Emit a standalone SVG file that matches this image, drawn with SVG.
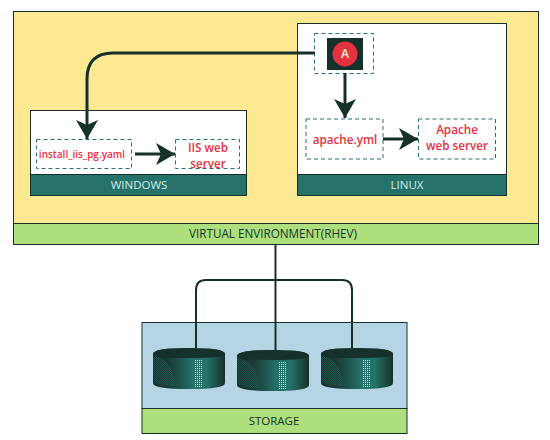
<svg xmlns="http://www.w3.org/2000/svg" width="550" height="440" viewBox="0 0 550 440">
<defs>
<linearGradient id="cyl" x1="0" x2="1" y1="0" y2="0">
<stop offset="0" stop-color="#16302b"/><stop offset="0.22" stop-color="#1a3a35"/><stop offset="0.42" stop-color="#1f5a53"/><stop offset="0.55" stop-color="#24726a"/><stop offset="0.75" stop-color="#24726a"/><stop offset="0.9" stop-color="#1c4a44"/><stop offset="1" stop-color="#16302b"/>
</linearGradient>
<pattern id="dots" width="2" height="2" patternUnits="userSpaceOnUse">
<rect width="2" height="2" fill="#24726a"/><rect width="1" height="1" fill="#d9ec8f"/>
</pattern>
<pattern id="dither" width="2" height="2" patternUnits="userSpaceOnUse">
<rect width="1" height="1" fill="#24726a"/><rect x="1" y="1" width="1" height="1" fill="#24726a"/>
</pattern>
<marker id="head" markerUnits="userSpaceOnUse" markerWidth="24" markerHeight="24" refX="19" refY="11.500" orient="auto">
<path d="M0 0.500 L19 11.500 L0 22.500 L5 11.500 Z" fill="#16302b"/>
</marker>
<g id="disk">
<path d="M0 6 Q0 0 36 0 Q72 0 72 6 V35 Q72 41 36 41 Q0 41 0 35 Z" fill="url(#cyl)"/>
<path d="M0 6 Q0 0 36 0 Q72 0 72 6 Q72 10 36 10 Q0 10 0 6 Z" fill="#16302b"/>
<path d="M0 8 Q20 10 22 38 Q6 38 1 34 Z" fill="url(#dither)" opacity="0.5"/>
<rect x="41" y="11" width="9" height="28" fill="url(#dots)"/>
</g>
</defs>
<style>
.box{stroke:#16302b;stroke-width:1}
.dash{fill:#fff;stroke:#24726a;stroke-width:1;stroke-dasharray:4 3}
.teal{fill:#24726a;stroke:#16302b;stroke-width:1}
.green{fill:#ade07c;stroke:#16302b;stroke-width:1}
.con{fill:none;stroke:#16302b;stroke-width:3}
.arrow{marker-end:url(#head)}
.thin{fill:none;stroke:#16302b;stroke-width:2}
text{font-family:"Open Sans","Liberation Sans",sans-serif;text-anchor:middle}
.red{fill:#e5323e;font-weight:600;font-size:10px}
.redb{fill:#e5323e;font-weight:600;font-size:11.700px}
.lab{fill:#d5ebe6;font-size:11.500px}
.dark{fill:#16302b;font-size:11.700px;font-weight:500}
</style>
<g id="virtual-environment">
<rect x="13.500" y="11.500" width="525" height="212" fill="#fee993" class="box"/>
<rect x="13.500" y="223.500" width="525" height="21" class="green"/>
<text x="273" y="238" class="dark">VIRTUAL ENVIRONMENT(RHEV)</text>
</g>
<g id="windows">
<rect x="30.500" y="110.500" width="216" height="64" fill="#fff" class="box"/>
<rect x="30.500" y="174.500" width="216" height="21" class="teal"/>
<text x="139" y="189" class="lab">WINDOWS</text>
</g>
<g id="linux">
<rect x="297.500" y="23.500" width="209" height="151" fill="#fff" class="box"/>
<rect x="297.500" y="174.500" width="209" height="21" class="teal"/>
<text x="407" y="189" class="lab">LINUX</text>
</g>
<g id="install-yaml">
<rect x="36.500" y="139.500" width="95" height="29" class="dash"/>
<text x="82" y="158" class="red">install_iis_pg.yaml</text>
</g>
<g id="iis-server">
<rect x="175.500" y="139.500" width="64" height="29" class="dash"/>
<text x="208" y="152" class="redb">IIS web</text>
<text x="208" y="168" class="redb">server</text>
</g>
<g id="ansible">
<rect x="314.500" y="33.500" width="59" height="40" class="dash"/>
<rect x="327" y="38" width="36" height="32" fill="#16302b"/>
<circle cx="345" cy="54" r="12.500" fill="#e5323e"/>
<text x="345" y="58" style="font-size:12px;font-weight:600;fill:#fff8d8">A</text>
</g>
<g id="apache-yml">
<rect x="306" y="119" width="77" height="40" class="dash"/>
<text x="345" y="143.500" class="redb">apache.yml</text>
</g>
<g id="apache-server">
<rect x="418.500" y="119" width="77" height="40" class="dash"/>
<text x="457" y="134" class="redb">Apache</text>
<text x="457" y="150" class="redb">web server</text>
</g>
<g id="storage">
<rect x="142" y="322.500" width="265" height="86" fill="#b5d5e4" stroke="#16302b"/>
<rect x="142" y="408.500" width="265" height="25" class="green"/>
<text x="274" y="425" class="dark" style="font-size:11.500px;font-weight:500">STORAGE</text>
</g>
<g id="connectors">
<path class="con arrow" d="M315 53 H113 Q87 53 87 79 V139"/>
<path class="con arrow" d="M135 154 H175"/>
<path class="con arrow" d="M345 73 V118"/>
<path class="con arrow" d="M383 139 H418"/>
<path class="thin" d="M275.500 245 V350"/>
<path class="thin" d="M196 350 V290 Q196 280 206 280 H342 Q352 280 352 290 V350"/>
</g>
<use id="disk-1" href="#disk" x="153" y="348"/>
<use id="disk-2" href="#disk" x="237" y="350"/>
<use id="disk-3" href="#disk" x="321" y="348"/>
</svg>
